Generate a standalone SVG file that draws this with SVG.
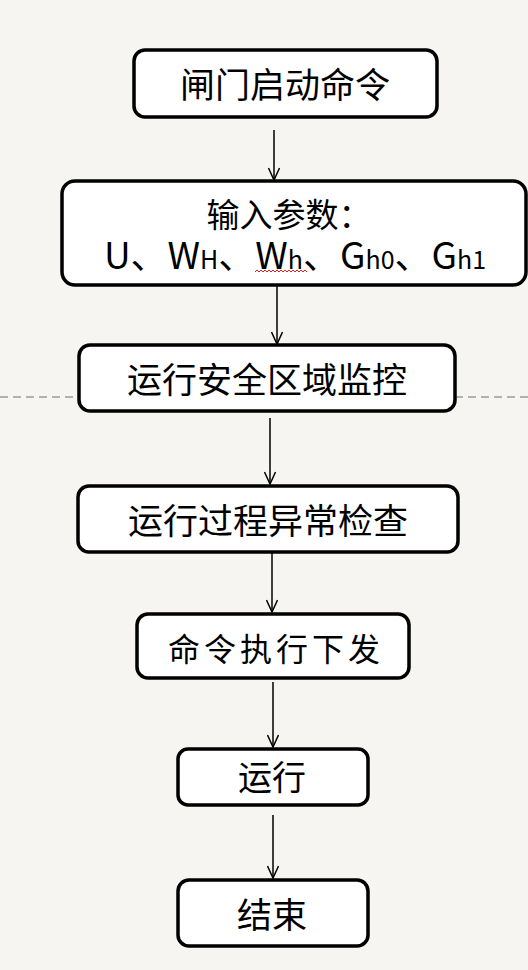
<svg xmlns="http://www.w3.org/2000/svg" width="528" height="970" viewBox="0 0 528 970">
<defs>
<marker id="arr" markerWidth="14" markerHeight="12" refX="13" refY="6" orient="auto" markerUnits="userSpaceOnUse" viewBox="0 0 14 12">
<polyline points="1,0.5 13,6 1,11.5" fill="none" stroke="#000" stroke-width="1.5"/>
</marker>
</defs>
<style>
.box{fill:#fff;stroke:#000;stroke-width:3.5}
.t{font-family:"Noto Sans CJK SC","Noto Sans",sans-serif;fill:#000;text-anchor:middle}
.c{stroke:#000;stroke-width:1.5;fill:none;marker-end:url(#arr)}
</style>
<rect width="528" height="970" fill="#f6f5f1"/>
<g id="connectors">
<line class="c" x1="274" y1="130" x2="274" y2="180"/>
<line class="c" x1="277" y1="286" x2="277" y2="344"/>
<line class="c" x1="270" y1="418" x2="270" y2="484"/>
<line class="c" x1="272" y1="553" x2="272" y2="612"/>
<line class="c" x1="273" y1="682" x2="273" y2="747"/>
<line class="c" x1="273" y1="815" x2="273" y2="878"/>
</g>
<g id="n1">
<rect class="box" x="134" y="50" width="303" height="67" rx="11"/>
<text class="t" x="285" y="98" font-size="35">闸门启动命令</text>
</g>
<g id="n2">
<rect class="box" x="62" y="181" width="464" height="104" rx="13"/>
<text class="t" x="289" y="227" font-size="33">输入参数：</text>
<text class="t" x="295" y="269" font-size="37">U、W<tspan font-size="25">H</tspan>、W<tspan font-size="25">h</tspan>、G<tspan font-size="25">h0</tspan>、G<tspan font-size="25">h1</tspan></text>
<path d="M255,272 l2,-2 l2,2 l2,-2 l2,2 l2,-2 l2,2 l2,-2 l2,2 l2,-2 l2,2 l2,-2 l2,2 l2,-2 l2,2 l2,-2 l2,2 l2,-2 l2,2 l2,-2 l2,2 l2,-2 l2,2 l2,-2 l2,2 l2,-2 l2,2" fill="none" stroke="#e02020" stroke-width="1"/>
</g>
<line x1="0" y1="397" x2="528" y2="397" stroke="#9a9a9a" stroke-width="1.5" stroke-dasharray="8,5"/>
<g id="n3">
<rect class="box" x="79" y="345" width="376" height="66" rx="11"/>
<text class="t" x="267" y="393" font-size="35">运行安全区域监控</text>
</g>
<g id="n4">
<rect class="box" x="78" y="486" width="380" height="66" rx="11"/>
<text class="t" x="268" y="534" font-size="35">运行过程异常检查</text>
</g>
<g id="n5">
<rect class="box" x="137" y="614" width="272" height="64" rx="11"/>
<text class="t" x="276" y="661" font-size="32" letter-spacing="4">命令执行下发</text>
</g>
<g id="n6">
<rect class="box" x="178" y="749" width="190" height="56" rx="10"/>
<text class="t" x="272" y="790" font-size="34">运行</text>
</g>
<g id="n7">
<rect class="box" x="178" y="880" width="190" height="66" rx="11"/>
<text class="t" x="272" y="928" font-size="35">结束</text>
</g>
</svg>
